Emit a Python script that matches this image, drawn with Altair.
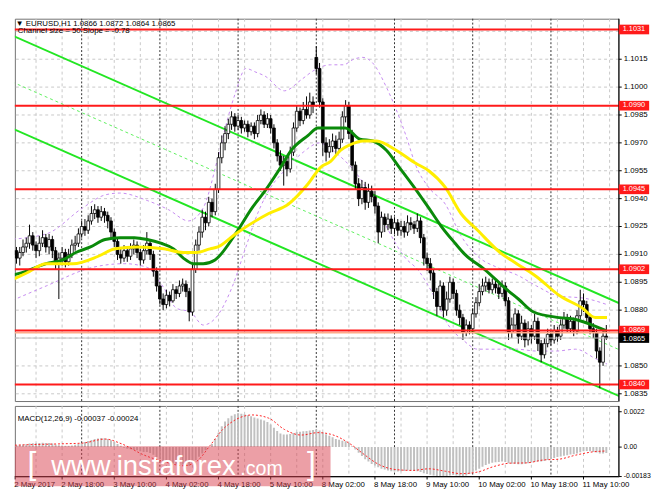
import altair as alt
import pandas as pd

# ---------------- data ----------------
# hourly EURUSD candles, index 0 = 2 May 02:00 ... index 183 = 11 May 17:00
CLOSE = [
    1.0910, 1.0912, 1.0908, 1.0911, 1.0914, 1.0916, 1.0920, 1.0915, 1.0912, 1.0916,
    1.0919, 1.0914, 1.0918, 1.0912, 1.0905, 1.0908, 1.0911, 1.0906, 1.0910, 1.0915,
    1.0916, 1.0921, 1.0925, 1.0923, 1.0928, 1.0932, 1.0934, 1.0930, 1.0933, 1.0931,
    1.0928, 1.0922, 1.0917, 1.0910, 1.0908, 1.0912, 1.0909, 1.0913, 1.0915, 1.0911,
    1.0907, 1.0912, 1.0916, 1.0910, 1.0901, 1.0893, 1.0886, 1.0883, 1.0888, 1.0885,
    1.0891, 1.0889, 1.0893, 1.0894, 1.0890, 1.0879, 1.0902, 1.0915, 1.0922, 1.0930,
    1.0927, 1.0938, 1.0933, 1.0945, 1.0962, 1.0970, 1.0975, 1.0980, 1.0984, 1.0979,
    1.0982, 1.0978, 1.0980, 1.0976, 1.0979, 1.0975, 1.0982, 1.0985, 1.0980, 1.0983,
    1.0978, 1.0970, 1.0963, 1.0958, 1.0960, 1.0956, 1.0965, 1.0978, 1.0987, 1.0982,
    1.0988, 1.0985, 1.0992, 1.0990, 1.1010, 1.0992, 1.0970, 1.0965, 1.0968, 1.0971,
    1.0967, 1.0972, 1.0984, 1.0990, 1.0975, 1.0958, 1.0948, 1.0940, 1.0946, 1.0938,
    1.0944, 1.0941, 1.0936, 1.0922, 1.0930, 1.0926, 1.0929, 1.0924, 1.0927, 1.0923,
    1.0925, 1.0922, 1.0927, 1.0926, 1.0924, 1.0928, 1.0919, 1.0908, 1.0905, 1.0900,
    1.0890, 1.0882, 1.0893, 1.0880, 1.0886, 1.0895, 1.0889, 1.0880, 1.0876, 1.0868,
    1.0872, 1.0870, 1.0878, 1.0884, 1.0890, 1.0893, 1.0895, 1.0891, 1.0894, 1.0892,
    1.0889, 1.0893, 1.0885, 1.0868, 1.0872, 1.0878, 1.0866, 1.0873, 1.0864, 1.0870,
    1.0866, 1.0874, 1.0862, 1.0856, 1.0862, 1.0867, 1.0864, 1.0869, 1.0866, 1.0872,
    1.0876, 1.0870, 1.0874, 1.0869, 1.0877, 1.0885, 1.0883, 1.0876, 1.0870, 1.0868,
    1.0858, 1.0852, 1.0866, 1.0865,
]
HIGH = [
    1.0914, 1.0915, 1.0914, 1.0914, 1.0918, 1.0919, 1.0926, 1.0922, 1.0917, 1.0920,
    1.0923, 1.0921, 1.0921, 1.0920, 1.0914, 1.0911, 1.0914, 1.0913, 1.0913, 1.0918,
    1.0920, 1.0924, 1.0928, 1.0929, 1.0931, 1.0936, 1.0937, 1.0936, 1.0936, 1.0935,
    1.0933, 1.0930, 1.0924, 1.0919, 1.0913, 1.0915, 1.0914, 1.0916, 1.0918, 1.0917,
    1.0913, 1.0915, 1.0922, 1.0918, 1.0912, 1.0903, 1.0895, 1.0889, 1.0891, 1.0890,
    1.0894, 1.0893, 1.0896, 1.0897, 1.0896, 1.0892, 1.0905, 1.0918, 1.0925, 1.0934,
    1.0933, 1.0941, 1.0940, 1.0948, 1.0965, 1.0974, 1.0979, 1.0983, 1.0987, 1.0986,
    1.0985, 1.0984, 1.0982, 1.0982, 1.0981, 1.0981, 1.0985, 1.0988, 1.0987, 1.0986,
    1.0985, 1.0980, 1.0972, 1.0966, 1.0963, 1.0962, 1.0968, 1.0981, 1.0990, 1.0989,
    1.0992, 1.0995, 1.0997, 1.0995, 1.1022, 1.1013, 1.0994, 1.0973, 1.0972, 1.0975,
    1.0974, 1.0976, 1.0987, 1.0993, 1.0992, 1.0977, 1.0960, 1.0951, 1.0950, 1.0949,
    1.0948, 1.0947, 1.0944, 1.0938, 1.0933, 1.0932, 1.0932, 1.0931, 1.0930, 1.0929,
    1.0928, 1.0928, 1.0931, 1.0930, 1.0928, 1.0932, 1.0930, 1.0921, 1.0911, 1.0908,
    1.0902, 1.0892, 1.0896, 1.0895, 1.0890, 1.0898, 1.0897, 1.0891, 1.0883, 1.0878,
    1.0875, 1.0874, 1.0881, 1.0887, 1.0894, 1.0897, 1.0898, 1.0897, 1.0897, 1.0896,
    1.0895, 1.0896, 1.0895, 1.0887, 1.0876, 1.0881, 1.0880, 1.0877, 1.0875, 1.0874,
    1.0872, 1.0878, 1.0876, 1.0864, 1.0865, 1.0870, 1.0869, 1.0872, 1.0871, 1.0875,
    1.0879, 1.0878, 1.0877, 1.0876, 1.0880, 1.0891, 1.0889, 1.0885, 1.0878, 1.0873,
    1.0870, 1.0860, 1.0869, 1.0872,
]
LOW = [
    1.0905, 1.0907, 1.0905, 1.0904, 1.0909, 1.0911, 1.0913, 1.0912, 1.0908, 1.0909,
    1.0914, 1.0911, 1.0910, 1.0908, 1.0902, 1.0886, 1.0904, 1.0903, 1.0904, 1.0908,
    1.0912, 1.0914, 1.0919, 1.0920, 1.0921, 1.0926, 1.0929, 1.0927, 1.0928, 1.0927,
    1.0924, 1.0919, 1.0914, 1.0907, 1.0905, 1.0906, 1.0906, 1.0907, 1.0910, 1.0908,
    1.0904, 1.0905, 1.0910, 1.0907, 1.0898, 1.0890, 1.0883, 1.0880, 1.0881, 1.0882,
    1.0884, 1.0886, 1.0887, 1.0890, 1.0887, 1.0874, 1.0877, 1.0900, 1.0912, 1.0919,
    1.0923, 1.0925, 1.0930, 1.0931, 1.0943, 1.0959, 1.0966, 1.0972, 1.0977, 1.0976,
    1.0977, 1.0975, 1.0976, 1.0973, 1.0974, 1.0972, 1.0973, 1.0980, 1.0978, 1.0978,
    1.0975, 1.0967, 1.0960, 1.0955, 1.0947, 1.0952, 1.0954, 1.0963, 1.0976, 1.0979,
    1.0980, 1.0983, 1.0983, 1.0986, 1.1007, 1.0989, 1.0963, 1.0960, 1.0962, 1.0965,
    1.0964, 1.0965, 1.0970, 1.0981, 1.0972, 1.0955, 1.0945, 1.0936, 1.0937, 1.0934,
    1.0935, 1.0938, 1.0932, 1.0916, 1.0919, 1.0922, 1.0923, 1.0921, 1.0921, 1.0920,
    1.0920, 1.0919, 1.0920, 1.0923, 1.0921, 1.0922, 1.0916, 1.0904, 1.0901, 1.0896,
    1.0886, 1.0877, 1.0880, 1.0876, 1.0877, 1.0884, 1.0886, 1.0877, 1.0872, 1.0864,
    1.0866, 1.0867, 1.0868, 1.0876, 1.0882, 1.0888, 1.0890, 1.0889, 1.0889, 1.0889,
    1.0886, 1.0887, 1.0882, 1.0864, 1.0865, 1.0869, 1.0862, 1.0864, 1.0860, 1.0861,
    1.0862, 1.0864, 1.0858, 1.0852, 1.0854, 1.0860, 1.0861, 1.0862, 1.0863, 1.0864,
    1.0870, 1.0868, 1.0868, 1.0866, 1.0867, 1.0875, 1.0879, 1.0873, 1.0867, 1.0865,
    1.0854, 1.0838, 1.0850, 1.0864,
]
FIRST_OPEN = 1.0908
GAP_INDEX = 94          # Monday open gap
GAP_OPEN = 1.1016

# moving averages (candle index, price)
MA_GREEN_IDX = [-0.9, 5.1, 11.1, 16.2, 20.2, 24.7, 29.2, 33.7, 38.2, 42.1, 46.3, 50.2, 53.2, 56.3,
                59.3, 62.9, 69.2, 74.3, 78.2, 82.4, 86.3, 91.5, 94.5, 102.9, 107.4, 111.3, 115.5,
                119.4, 124.5, 128.5, 132.4, 136.6, 139.6, 145.6, 152.5, 156.0, 160.7, 168.5, 173.6,
                178.7, 182.9]
MA_GREEN = [1.0898, 1.0901, 1.0905, 1.0907, 1.0911, 1.0914, 1.0918, 1.0919, 1.0919, 1.0918, 1.0916,
            1.0913, 1.0908, 1.0905, 1.0905, 1.0907, 1.0921, 1.0935, 1.0944, 1.0955, 1.0966, 1.0974,
            1.0978, 1.0978, 1.0972, 1.0971, 1.0966, 1.0957, 1.0945, 1.0935, 1.0925, 1.0916, 1.0910,
            1.0902, 1.0891, 1.0886, 1.0879, 1.0876, 1.0875, 1.0872, 1.0869]
MA_YELLOW_IDX = [-0.9, 5.1, 11.1, 19.3, 27.1, 32.2, 39.1, 47.2, 53.2, 57.2, 61.4, 63.8, 69.2, 79.4,
                 85.4, 91.5, 95.4, 98.4, 101.4, 104.4, 108.3, 112.5, 118.5, 124.5, 128.5, 133.6,
                 138.4, 143.5, 150.4, 155.5, 161.6, 168.5, 175.7, 179.6, 183.2]
MA_YELLOW = [1.0895, 1.0900, 1.0905, 1.0905, 1.0909, 1.0913, 1.0914, 1.0913, 1.0911, 1.0911, 1.0913,
             1.0914, 1.0921, 1.0932, 1.0937, 1.0948, 1.0957, 1.0960, 1.0966, 1.0969, 1.0971, 1.0971,
             1.0966, 1.0959, 1.0955, 1.0946, 1.0932, 1.0923, 1.0911, 1.0905, 1.0898, 1.0888, 1.0881,
             1.0876, 1.0876]

# envelope bands (candle index, price)
BB_UP_IDX = [-0.9, 11.1, 22.3, 29.2, 33.7, 42.1, 48.7, 54.8, 59.3, 63.8, 66.8, 69.2, 72.4, 75.5, 78.2,
             84.2, 89.4, 93.3, 98.4, 102.3, 105.5, 108.3, 111.3, 115.5, 118.5, 121.5, 124.5, 128.5,
             133.6, 138.4, 143.5, 149.5, 155.5, 161.6, 167.6, 177.5, 183.2]
BB_UP = [1.0918, 1.0921, 1.0935, 1.0942, 1.0943, 1.0939, 1.0934, 1.0928, 1.0935, 1.0962, 1.0983,
         1.0997, 1.1010, 1.1008, 1.1006, 1.0998, 1.1004, 1.1009, 1.1012, 1.1012, 1.1015, 1.1016,
         1.1013, 1.1000, 1.0988, 1.0974, 1.0958, 1.0946, 1.0937, 1.0920, 1.0909, 1.0903, 1.0899,
         1.0893, 1.0888, 1.0886, 1.0883]
BB_LO_IDX = [-0.9, 11.1, 25.3, 35.2, 42.1, 47.2, 51.1, 55.4, 59.3, 63.2, 68.3, 72.4, 76.0, 80.0, 84.2,
             90.0, 95.0, 99.0, 103.0, 107.4, 111.9, 116.4, 120.9, 125.5, 130.0, 134.5, 139.0, 143.5,
             149.5, 155.5, 161.6, 167.6, 173.6, 179.6, 183.2]
BB_LO = [1.0884, 1.0893, 1.0903, 1.0905, 1.0903, 1.0892, 1.0881, 1.0879, 1.0872, 1.0876, 1.0893,
         1.0914, 1.0932, 1.0946, 1.0955, 1.0965, 1.0970, 1.0966, 1.0960, 1.0951, 1.0938, 1.0922,
         1.0909, 1.0901, 1.0888, 1.0872, 1.0864, 1.0859, 1.0859, 1.0859, 1.0858, 1.0858, 1.0859,
         1.0854, 1.0851]

# regression channel end points
CHANNEL_IDX = [-0.9, 189.2]
CHANNEL_UPPER = [1.1029, 1.0882]
CHANNEL_LOWER = [1.0979, 1.0832]

# horizontal levels
LEVELS = [1.1031, 1.0990, 1.0945, 1.0902, 1.0869, 1.0840]
SECOND_LINE = 1.08678
BID = 1.0865

# MACD histogram (one value per candle) and signal line
MACD = [
    0.00010, 0.00012, 0.00012, 0.00014, 0.00016, 0.00018, 0.00022, 0.00024, 0.00025, 0.00026,
    0.00027, 0.00026, 0.00025, 0.00022, 0.00016, 0.00012, 0.00010, 0.00008, 0.00008, 0.00010,
    0.00014, 0.00020, 0.00026, 0.00032, 0.00038, 0.00044, 0.00050, 0.00054, 0.00056, 0.00055,
    0.00050, 0.00042, 0.00032, 0.00020, 0.00008, -0.00004, -0.00010, -0.00014, -0.00016, -0.00020,
    -0.00026, -0.00030, -0.00030, -0.00036, -0.00048, -0.00062, -0.00076, -0.00088, -0.00094, -0.00100,
    -0.00102, -0.00106, -0.00108, -0.00110, -0.00112, -0.00118, -0.00100, -0.00080, -0.00060, -0.00040,
    -0.00020, 0.00000, 0.00020, 0.00050, 0.00090, 0.00130, 0.00160, 0.00180, 0.00195, 0.00205,
    0.00210, 0.00208, 0.00204, 0.00198, 0.00192, 0.00184, 0.00178, 0.00172, 0.00166, 0.00156,
    0.00140, 0.00120, 0.00100, 0.00085, 0.00078, 0.00078, 0.00082, 0.00088, 0.00094, 0.00096,
    0.00098, 0.00100, 0.00104, 0.00106, 0.00110, 0.00104, 0.00092, 0.00080, 0.00070, 0.00062,
    0.00050, 0.00045, 0.00040, 0.00036, 0.00025, 0.00005, -0.00015, -0.00035, -0.00055, -0.00075,
    -0.00090, -0.00105, -0.00115, -0.00125, -0.00135, -0.00140, -0.00145, -0.00150, -0.00152, -0.00152,
    -0.00150, -0.00148, -0.00146, -0.00146, -0.00148, -0.00150, -0.00155, -0.00162, -0.00168, -0.00172,
    -0.00176, -0.00180, -0.00182, -0.00183, -0.00180, -0.00176, -0.00174, -0.00176, -0.00178, -0.00180,
    -0.00176, -0.00168, -0.00158, -0.00146, -0.00134, -0.00122, -0.00112, -0.00104, -0.00098, -0.00094,
    -0.00092, -0.00090, -0.00092, -0.00100, -0.00104, -0.00104, -0.00106, -0.00106, -0.00104, -0.00100,
    -0.00096, -0.00092, -0.00090, -0.00090, -0.00086, -0.00080, -0.00074, -0.00068, -0.00062, -0.00058,
    -0.00054, -0.00050, -0.00046, -0.00044, -0.00040, -0.00032, -0.00026, -0.00024, -0.00026, -0.00030,
    -0.00034, -0.00040, -0.00039, -0.00037,
]
SIGNAL_IDX = [-0.9, 6, 15, 22.3, 29.2, 34.3, 41.2, 47.2, 53.2, 57.2, 61.4, 65.3, 69.2, 74.3, 79.4, 84.2,
              89.4, 94.5, 98.4, 104.4, 108.3, 113.4, 118.5, 123.5, 128.5, 133.6, 138.4, 143.5, 148.6,
              153.4, 158.5, 163.7, 168.5, 173.6, 178.7, 183.0]
SIGNAL = [0.00010, 0.00015, 0.00020, 0.00025, 0.00050, 0.00020, -0.00050, -0.00090, -0.00116, -0.00090,
          0.00010, 0.00110, 0.00170, 0.00200, 0.00180, 0.00110, 0.00075, 0.00090, 0.00080, 0.00020,
          -0.00040, -0.00110, -0.00140, -0.00145, -0.00135, -0.00150, -0.00165, -0.00155, -0.00120,
          -0.00100, -0.00098, -0.00080, -0.00075, -0.00050, -0.00030, -0.00024]

# axes
PRICE_TICKS = [1.0835, 1.0850, 1.0865, 1.0880, 1.0895, 1.0910, 1.0925, 1.0940, 1.0955, 1.0970,
               1.0985, 1.1000, 1.1015, 1.1030]
HIDDEN_PRICE_LABELS = [1.0865, 1.1030]   # covered by the price boxes in the picture
X_LABEL_IDX = [1.6, 16, 32, 48, 64, 80, 96, 112, 128, 144, 160, 176]
X_LABELS = ["2 May 2017", "2 May 18:00", "3 May 10:00", "4 May 02:00", "4 May 18:00", "5 May 10:00",
            "8 May 02:00", "8 May 18:00", "9 May 10:00", "10 May 02:00", "10 May 18:00", "11 May 10:00"]
GRID_IDX = list(range(8, 190, 8))
DAY_IDX = [22, 46, 70, 94, 118, 142, 166]
MACD_TICKS = [0.0022, 0.0, -0.00183]
MACD_TICK_LABELS = ["0.0022", "0.00", "-0.00183"]

HEADER = "\u25bc EURUSD,H1  1.0866 1.0872 1.0864 1.0865"
SUBHEADER = "Channel size = 50 Slope = -0.78"
MACD_TITLE = "MACD(12,26,9) -0.00037 -0.00024"

# ---------------- chart ----------------
FONT = "Liberation Sans"
FS = 8
W, H_MAIN, H_MACD = 616, 390, 72
PX_PER_BAR = 3.324
xs = alt.Scale(domain=[1.5, 1.5 + W / PX_PER_BAR], nice=False, zero=False)
ys = alt.Scale(domain=[1.08311, 1.10368], nice=False, zero=False)
ms = alt.Scale(domain=[-0.00183, 0.00256], nice=False, zero=False)

N = len(CLOSE)
OPEN = [FIRST_OPEN] + CLOSE[:-1]
OPEN[GAP_INDEX] = GAP_OPEN
cdf = pd.DataFrame({"i": list(range(N)), "o": OPEN, "h": HIGH, "l": LOW, "c": CLOSE})


def X(f):
    return alt.X(f, type="quantitative", scale=xs, axis=None)


def Y(f):
    return alt.Y(f, type="quantitative", scale=ys, axis=None)


def M(f):
    return alt.Y(f, type="quantitative", scale=ms, axis=None)


grid_df = pd.DataFrame({"i": GRID_IDX})
day_df = pd.DataFrame({"i": DAY_IDX})
ptick_df = pd.DataFrame({"p": PRICE_TICKS})
plabel_df = pd.DataFrame({"p": [p for p in PRICE_TICKS if p not in HIDDEN_PRICE_LABELS]})

# ---- main panel ----
hgrid = alt.Chart(ptick_df).mark_rule(color="#c8c8c8", strokeDash=[3, 3], strokeWidth=1).encode(y=Y("p"))
vgrid = alt.Chart(grid_df).mark_rule(color="#c8c8c8", strokeDash=[3, 3], strokeWidth=1).encode(x=X("i"))
vday = alt.Chart(day_df).mark_rule(color="#303030", strokeDash=[2, 2], strokeWidth=1).encode(x=X("i"))

ch_df = pd.DataFrame({"i": CHANNEL_IDX, "up": CHANNEL_UPPER, "lo": CHANNEL_LOWER})
ch_up = alt.Chart(ch_df).mark_line(color="#22e622", strokeWidth=2, clip=True).encode(x=X("i"), y=Y("up"))
ch_lo = alt.Chart(ch_df).mark_line(color="#22e622", strokeWidth=2, clip=True).encode(x=X("i"), y=Y("lo"))
ch_mid = alt.Chart(ch_df).transform_calculate(mid="(datum.up + datum.lo) / 2").mark_line(
    color="#5ef05e", strokeWidth=1, strokeDash=[3, 3], clip=True).encode(x=X("i"), y=Y("mid:Q"))

bbu = alt.Chart(pd.DataFrame({"i": BB_UP_IDX, "v": BB_UP})).mark_line(
    color="#c58af0", strokeWidth=1, strokeDash=[3, 3], interpolate="monotone", clip=True).encode(
    x=X("i"), y=Y("v"))
bbl = alt.Chart(pd.DataFrame({"i": BB_LO_IDX, "v": BB_LO})).mark_line(
    color="#c58af0", strokeWidth=1, strokeDash=[3, 3], interpolate="monotone", clip=True).encode(
    x=X("i"), y=Y("v"))

wick = alt.Chart(cdf).mark_rule(color="black", strokeWidth=1, clip=True).encode(
    x=X("i"), y=Y("l"), y2="h:Q")
body = alt.Chart(cdf).transform_calculate(
    x1="datum.i - 0.42", x2="datum.i + 0.42"
).mark_rect(stroke="black", strokeWidth=0.8, clip=True).encode(
    x=X("x1:Q"), x2="x2:Q", y=Y("o"), y2="c:Q",
    fill=alt.condition("datum.c >= datum.o", alt.value("white"), alt.value("black")))

ma_g = alt.Chart(pd.DataFrame({"i": MA_GREEN_IDX, "v": MA_GREEN})).mark_line(
    color="#0a8a0a", strokeWidth=3, interpolate="monotone", clip=True).encode(x=X("i"), y=Y("v"))
ma_y = alt.Chart(pd.DataFrame({"i": MA_YELLOW_IDX, "v": MA_YELLOW})).mark_line(
    color="#ffee00", strokeWidth=3, interpolate="monotone", clip=True).encode(x=X("i"), y=Y("v"))

lev_df = pd.DataFrame({"p": LEVELS})
lev = alt.Chart(lev_df).mark_rule(color="#ff1a1a", strokeWidth=2).encode(y=Y("p"))
second = alt.Chart(pd.DataFrame({"p": [SECOND_LINE]})).mark_rule(color="#ffaa88", strokeWidth=1.5).encode(y=Y("p"))
bid_df = pd.DataFrame({"p": [BID]})
bid = alt.Chart(bid_df).mark_rule(color="#c0c0c0", strokeWidth=1).encode(y=Y("p"))

# right price scale: axis line, ticks, labels
p_domain = alt.Chart(pd.DataFrame({"a": [0]})).mark_rule(color="black", strokeWidth=1).encode(
    x=alt.value(W), y=alt.value(0), y2=alt.value(H_MAIN))
p_ticks = alt.Chart(ptick_df).mark_rule(color="black", strokeWidth=1).encode(
    x=alt.value(W), x2=alt.value(W + 3), y=Y("p"))
p_labels = alt.Chart(plabel_df).mark_text(font=FONT, fontSize=FS, align="left", baseline="middle",
                                          color="black").encode(
    x=alt.value(W + 5), y=Y("p"), text=alt.Text("p:Q", format=".4f"))

BOX_FS = 7.5
lev_box = alt.Chart(lev_df).transform_calculate(
    t="datum.p + 0.00026", b="datum.p - 0.00026"
).mark_rect(color="#ff1a1a").encode(x=alt.value(W), x2=alt.value(W + 31), y=Y("t:Q"), y2="b:Q")
lev_txt = alt.Chart(lev_df).mark_text(color="white", font=FONT, fontSize=BOX_FS, align="center",
                                      baseline="middle", dy=-0.6).encode(
    x=alt.value(W + 15.5), y=Y("p"), text=alt.Text("p:Q", format=".4f"))
bid_box = alt.Chart(bid_df).transform_calculate(
    t="datum.p + 0.00026", b="datum.p - 0.00026"
).mark_rect(color="black").encode(x=alt.value(W), x2=alt.value(W + 31), y=Y("t:Q"), y2="b:Q")
bid_txt = alt.Chart(bid_df).mark_text(color="white", font=FONT, fontSize=BOX_FS, align="center",
                                      baseline="middle", dy=0.7).encode(
    x=alt.value(W + 15.5), y=Y("p"), text=alt.Text("p:Q", format=".4f"))

hdr = alt.Chart(pd.DataFrame({"t": [HEADER]})).mark_text(
    font=FONT, fontSize=FS, align="left", baseline="top", color="black").encode(
    x=alt.value(1), y=alt.value(1), text="t:N")
sub = alt.Chart(pd.DataFrame({"t": [SUBHEADER]})).mark_text(
    font=FONT, fontSize=FS, align="left", baseline="middle", color="black").encode(
    x=alt.value(3), y=alt.value(13), text="t:N")

main = alt.layer(hgrid, vgrid, vday, ch_mid, ch_up, ch_lo, bbu, bbl, wick, body, ma_g, ma_y,
                 bid, second, lev, p_domain, p_ticks, p_labels, lev_box, lev_txt, bid_box, bid_txt,
                 hdr, sub).properties(width=W, height=H_MAIN)

# ---- MACD panel ----
mdf = pd.DataFrame({"i": list(range(N)), "m": MACD})
hist = alt.Chart(mdf).mark_rule(color="#c0c0c0", strokeWidth=2, clip=True).encode(
    x=X("i"), y=M("m"), y2=alt.datum(0))
sig = alt.Chart(pd.DataFrame({"i": SIGNAL_IDX, "v": SIGNAL})).mark_line(
    color="#ff2020", strokeWidth=1, strokeDash=[2, 2], interpolate="monotone", clip=True).encode(
    x=X("i"), y=M("v"))
mgrid = alt.Chart(grid_df).mark_rule(color="#c8c8c8", strokeDash=[3, 3]).encode(x=X("i"))
mday = alt.Chart(day_df).mark_rule(color="#303030", strokeDash=[2, 2]).encode(x=X("i"))
mtitle = alt.Chart(pd.DataFrame({"t": [MACD_TITLE]})).mark_text(
    font=FONT, fontSize=FS, align="left", baseline="middle", color="black").encode(
    x=alt.value(3), y=alt.value(13), text="t:N")

mtick_df = pd.DataFrame({"m": MACD_TICKS, "lab": MACD_TICK_LABELS})
m_domain = alt.Chart(pd.DataFrame({"a": [0]})).mark_rule(color="black", strokeWidth=1).encode(
    x=alt.value(W), y=alt.value(0), y2=alt.value(H_MACD))
m_ticks = alt.Chart(mtick_df).mark_rule(color="black").encode(
    x=alt.value(W), x2=alt.value(W + 3), y=M("m"))
m_labels = alt.Chart(mtick_df).mark_text(font=FONT, fontSize=7, align="left", baseline="middle",
                                         color="black").encode(
    x=alt.value(W + 5), y=M("m"), text="lab:N")

xlab_df = pd.DataFrame({"i": X_LABEL_IDX, "lab": X_LABELS})
x_domain = alt.Chart(pd.DataFrame({"a": [0]})).mark_rule(color="black", strokeWidth=1).encode(
    x=alt.value(0), x2=alt.value(W), y=alt.value(H_MACD))
x_ticks = alt.Chart(xlab_df).mark_rule(color="black").encode(
    x=X("i"), y=alt.value(H_MACD), y2=alt.value(H_MACD + 3))
x_labels = alt.Chart(xlab_df).mark_text(font=FONT, fontSize=FS, align="left", baseline="middle",
                                        color="black", dx=-1).encode(
    x=X("i"), y=alt.value(H_MACD + 8.5), text="lab:N")

# watermark (pink band with white text)
wm_rect = alt.Chart(pd.DataFrame({"a": [0]})).mark_rect(color="#d9404d", opacity=0.5).encode(
    x=alt.value(0), x2=alt.value(322), y=alt.value(41), y2=alt.value(82))
wm_b1 = alt.Chart(pd.DataFrame({"t": ["["]})).mark_text(
    font=FONT, fontSize=32, color="white", align="left", baseline="alphabetic").encode(
    x=alt.value(13), y=alt.value(69), text="t:N")
wm_main = alt.Chart(pd.DataFrame({"t": ["www.instaforex"]})).mark_text(
    font=FONT, fontSize=28, color="white", align="left", baseline="alphabetic").encode(
    x=alt.value(37), y=alt.value(70), text="t:N")
wm_com = alt.Chart(pd.DataFrame({"t": [".com"]})).mark_text(
    font=FONT, fontSize=20, color="white", align="left", baseline="alphabetic").encode(
    x=alt.value(230), y=alt.value(70), text="t:N")
wm_b2 = alt.Chart(pd.DataFrame({"t": ["]"]})).mark_text(
    font=FONT, fontSize=32, color="white", align="left", baseline="alphabetic").encode(
    x=alt.value(298), y=alt.value(69), text="t:N")

macd = alt.layer(mgrid, mday, hist, sig, mtitle, m_domain, m_ticks, m_labels, x_domain, x_ticks,
                 x_labels, wm_rect, wm_b1, wm_main, wm_com, wm_b2).properties(width=W, height=H_MACD)

chart = alt.vconcat(main, macd, spacing=3).configure_view(stroke="#707070", strokeWidth=1)

chart.save("out.html", embed_options={"renderer": "svg", "actions": False})
